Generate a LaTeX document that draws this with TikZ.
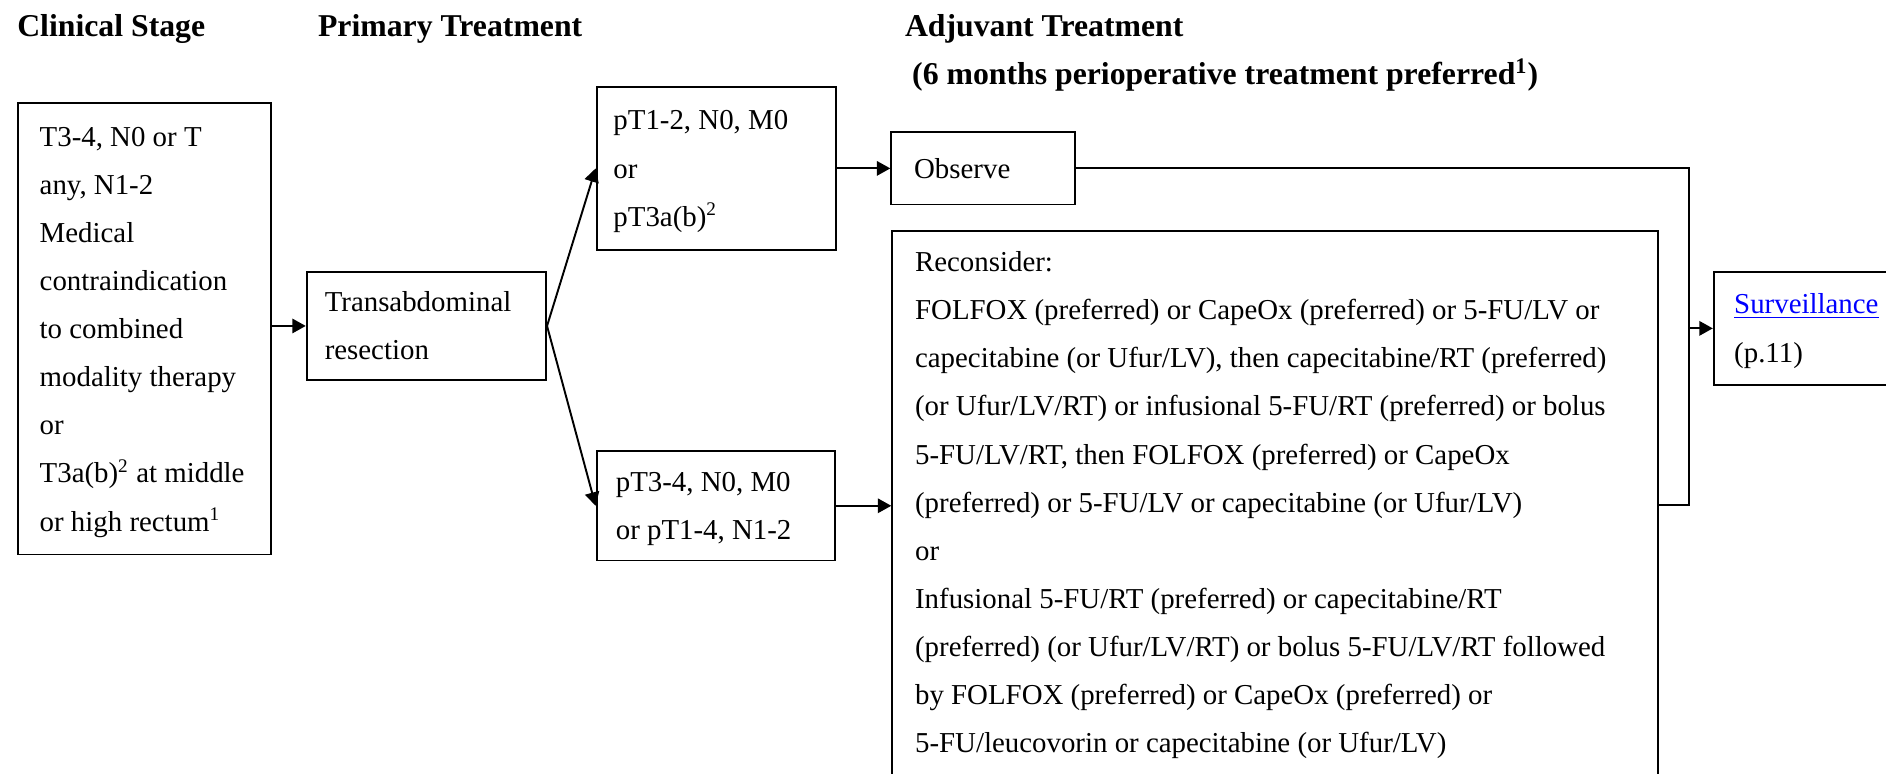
\documentclass[tikz,border=0pt]{standalone}
\usepackage{fontspec}
\setmainfont{Liberation Serif}
\usetikzlibrary{arrows.meta}
\begin{document}
\begin{tikzpicture}[x=0.5pt,y=-0.5pt,
  box/.style={draw, line width=0.8pt, align=flush left, font=\fontsize{12}{20}\selectfont, inner ysep=0pt},
  head/.style={font=\fontsize{13.2}{15}\selectfont\bfseries, anchor=base west, inner sep=0pt},
  conn/.style={line width=0.8pt},
  arr/.style={conn, -{Triangle[length=5.6pt,width=6pt]}}]
\useasboundingbox (0,0) rectangle (1568,643);
\clip (0,0) rectangle (1568,643);

% headers
\node[head] (h1) at (14,30) {Clinical Stage};
\node[head] (h2) at (264,30) {Primary Treatment};
\node[head] (h3) at (752,30) {Adjuvant Treatment};
\node[head] (h4) at (758,70) {(6 months perioperative treatment preferred\textsuperscript{1})};

% boxes
\node[box, minimum width=105pt, minimum height=187.5pt, inner xsep=9pt, text width=87pt] (A) at (120,273.5)
 {\strut T3-4, N0 or T\\ any, N1-2\\ Medical\\ contraindication\\ to combined\\ modality therapy\\ or\\ \mbox{T3a(b)\textsuperscript{2} at middle}\\ or high rectum\textsuperscript{1}\strut};
\node[box, minimum width=99.5pt, minimum height=45pt, inner xsep=7.5pt, text width=84.5pt] (B) at (354.5,271)
 {\strut Transabdominal\\ resection\strut};
\node[box, minimum width=99.5pt, minimum height=68pt, inner xsep=7pt, text width=85.5pt] (C) at (595.5,140)
 {\strut pT1-2, N0, M0\\ or\\ pT3a(b)\textsuperscript{2}\strut};
\node[box, minimum width=99pt, minimum height=45.5pt, inner xsep=8pt, text width=83pt] (D) at (595,420.5)
 {\strut pT3-4, N0, M0\\ or pT1-4, N1-2\strut};
\node[box, minimum width=76.5pt, minimum height=30pt, inner xsep=9.5pt, text width=57.5pt] (E) at (817.5,140)
 {\strut Observe\strut};
\node[box, anchor=north west, inner xsep=9.5pt, inner ysep=3pt] (F) at (741,191)
 {\parbox[t][250pt][t]{299.5pt}{\strut Reconsider:\\
 FOLFOX (preferred) or CapeOx (preferred) or 5-FU/LV or\\
 capecitabine (or Ufur/LV), then capecitabine/RT (preferred)\\
 (or Ufur/LV/RT) or infusional 5-FU/RT (preferred) or bolus\\
 5-FU/LV/RT, then FOLFOX (preferred) or CapeOx\\
 (preferred) or 5-FU/LV or capecitabine (or Ufur/LV)\\
 or\\
 Infusional 5-FU/RT (preferred) or capecitabine/RT\\
 (preferred) (or Ufur/LV/RT) or bolus 5-FU/LV/RT followed\\
 by FOLFOX (preferred) or CapeOx (preferred) or\\
 5-FU/leucovorin or capecitabine (or Ufur/LV)\strut}};
\node[box, anchor=west, minimum width=90pt, minimum height=47pt, inner xsep=8.5pt, text width=73pt] (G) at (1424,273)
 {\strut\textcolor{blue}{\underline{Surveillance}}\\ (p.11)\strut};

% connectors
\draw[arr] (A.east |- B.west) -- (B.west);
\draw[arr] (B.east) -- (C.west);
\draw[arr] (B.east) -- (D.west);
\draw[arr] (C.east) -- (E.west);
\draw[arr] (D.east) -- (D.east -| F.west);
\coordinate (J) at (1404,420);
\draw[conn] (E.east) -| (J) -- (J -| F.east);
\draw[arr] (J |- G.west) -- (G.west);
\end{tikzpicture}
\end{document}
